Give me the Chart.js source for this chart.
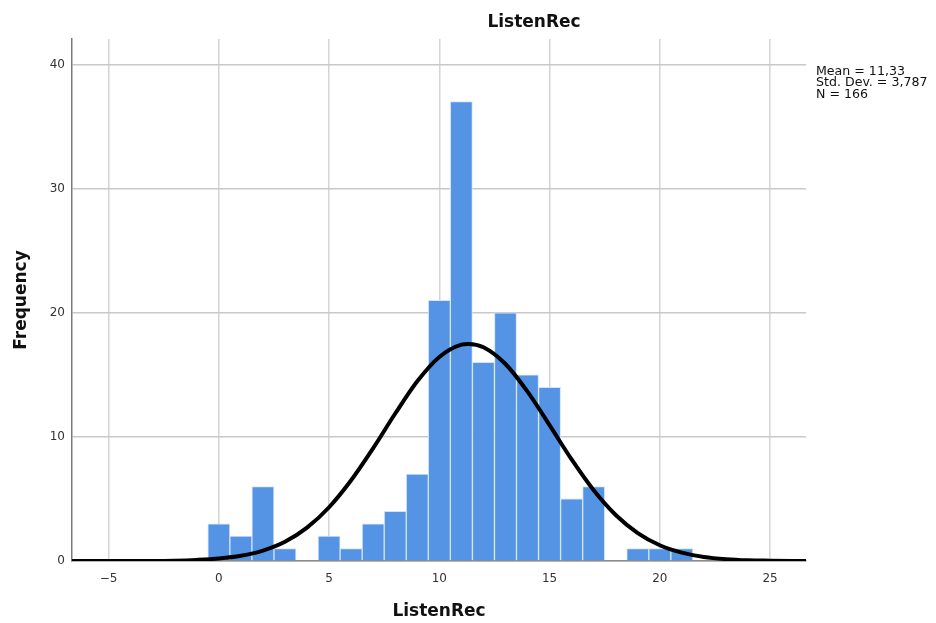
<!DOCTYPE html>
<html>
<head>
<meta charset="utf-8">
<script src="https://cdn.jsdelivr.net/npm/chart.js@4/dist/chart.umd.min.js"></script>
<style>
  html, body { margin: 0; padding: 0; background: #fff; }
  #wrap { width: 936px; height: 623px; position: relative; }
</style>
</head>
<body>
<div id="wrap"><canvas id="hist"></canvas></div>
<script>
// histogram bins (centre of bin) and frequencies
var binCenters = [0, 1, 2, 3, 4, 5, 6, 7, 8, 9, 10, 11, 12, 13, 14, 15, 16, 17, 18, 19, 20, 21];
var binCounts  = [3, 2, 6, 1, 0, 2, 1, 3, 4, 7, 21, 37, 16, 20, 15, 14, 5, 6, 0, 1, 1, 1];

// normal curve
var curveX = [-7, -6, -5, -4, -3, -2, -1, 0, 1, 2, 3, 4, 5, 6, 7, 8, 9, 10, 11, 11.33, 12, 13, 14, 15, 16, 17, 18, 19, 20, 21, 22, 23, 24, 25, 26, 27];
var curveY = [0, 0, 0, 0.01, 0.01, 0.03, 0.09, 0.2, 0.42, 0.84, 1.55, 2.69, 4.33, 6.5, 9.09, 11.88, 14.48, 16.44, 17.43, 17.49, 17.22, 15.87, 13.64, 10.94, 8.18, 5.7, 3.71, 2.25, 1.27, 0.67, 0.33, 0.15, 0.06, 0.03, 0.01, 0];

var xTicks = [-5, 0, 5, 10, 15, 20, 25];
var yTicks = [0, 10, 20, 30, 40];
var statLines = ["Mean = 11,33", "Std. Dev. = 3,787", "N = 166"];
var chartTitle = "ListenRec";

var barPoints = binCenters.map(function (c, i) { return { x: c, y: binCounts[i] }; });
var curvePoints = curveX.map(function (c, i) { return { x: c, y: curveY[i] }; });

var fontFamily = "'DejaVu Sans', sans-serif";

// title on top and the stats box on the right
var extraText = {
  id: 'extraText',
  afterDraw: function (chart) {
    var ctx = chart.ctx, area = chart.chartArea;
    ctx.save();
    ctx.fillStyle = '#111';
    ctx.font = 'bold 17px ' + fontFamily;
    ctx.textAlign = 'center';
    ctx.textBaseline = 'middle';
    ctx.fillText(chartTitle, 534, 23);

    ctx.font = '12.6px ' + fontFamily;
    ctx.textAlign = 'left';
    ctx.textBaseline = 'top';
    for (var i = 0; i < statLines.length; i++) {
      ctx.fillText(statLines[i], area.right + 10, 65 + i * 11.5);
    }
    ctx.restore();
  }
};

new Chart(document.getElementById('hist'), {
  data: {
    datasets: [
      {
        type: 'line',
        data: curvePoints,
        borderColor: '#000',
        borderWidth: 4,
        pointRadius: 0,
        cubicInterpolationMode: 'monotone',
        order: 0
      },
      {
        type: 'bar',
        data: barPoints,
        backgroundColor: '#5594e4',
        borderColor: '#d3e4f8',
        borderWidth: 1,
        barPercentage: 1,
        categoryPercentage: 1,
        order: 1
      }
    ]
  },
  options: {
    responsive: true,
    maintainAspectRatio: false,
    animation: false,
    layout: { padding: { left: 0, right: 130, top: 39, bottom: 0 } },
    plugins: {
      legend: { display: false },
      tooltip: { enabled: false }
    },
    scales: {
      x: {
        type: 'linear',
        min: -6.66,
        max: 26.63,
        offset: false,
        afterBuildTicks: function (scale) {
          scale.ticks = xTicks.map(function (v) { return { value: v }; });
        },
        afterFit: function (scale) { scale.height = 62; },
        grid: { color: '#d4d4d4', lineWidth: 1.5, drawTicks: false, offset: false },
        border: { color: '#8a8a8a', width: 1.5 },
        ticks: {
          padding: 11,
          color: '#333',
          font: { family: fontFamily, size: 12 },
          callback: function (v) { return v < 0 ? '\u2212' + Math.abs(v) : v; }
        },
        title: {
          display: true,
          text: chartTitle,
          color: '#111',
          font: { family: fontFamily, size: 17, weight: 'bold' },
          padding: { top: 0, bottom: 1 }
        }
      },
      y: {
        min: 0,
        max: 42.05,
        afterBuildTicks: function (scale) {
          scale.ticks = yTicks.map(function (v) { return { value: v }; });
        },
        afterFit: function (scale) { scale.width = 72; },
        grid: { color: '#c8c8c8', lineWidth: 1.5, drawTicks: false },
        border: { color: '#7a7a7a', width: 1.5 },
        ticks: {
          padding: 7,
          color: '#333',
          font: { family: fontFamily, size: 12 }
        },
        title: {
          display: true,
          text: 'Frequency',
          color: '#111',
          font: { family: fontFamily, size: 17, weight: 'bold' },
          padding: { top: 11, bottom: 0 }
        }
      }
    }
  },
  plugins: [extraText]
});
</script>
</body>
</html>
